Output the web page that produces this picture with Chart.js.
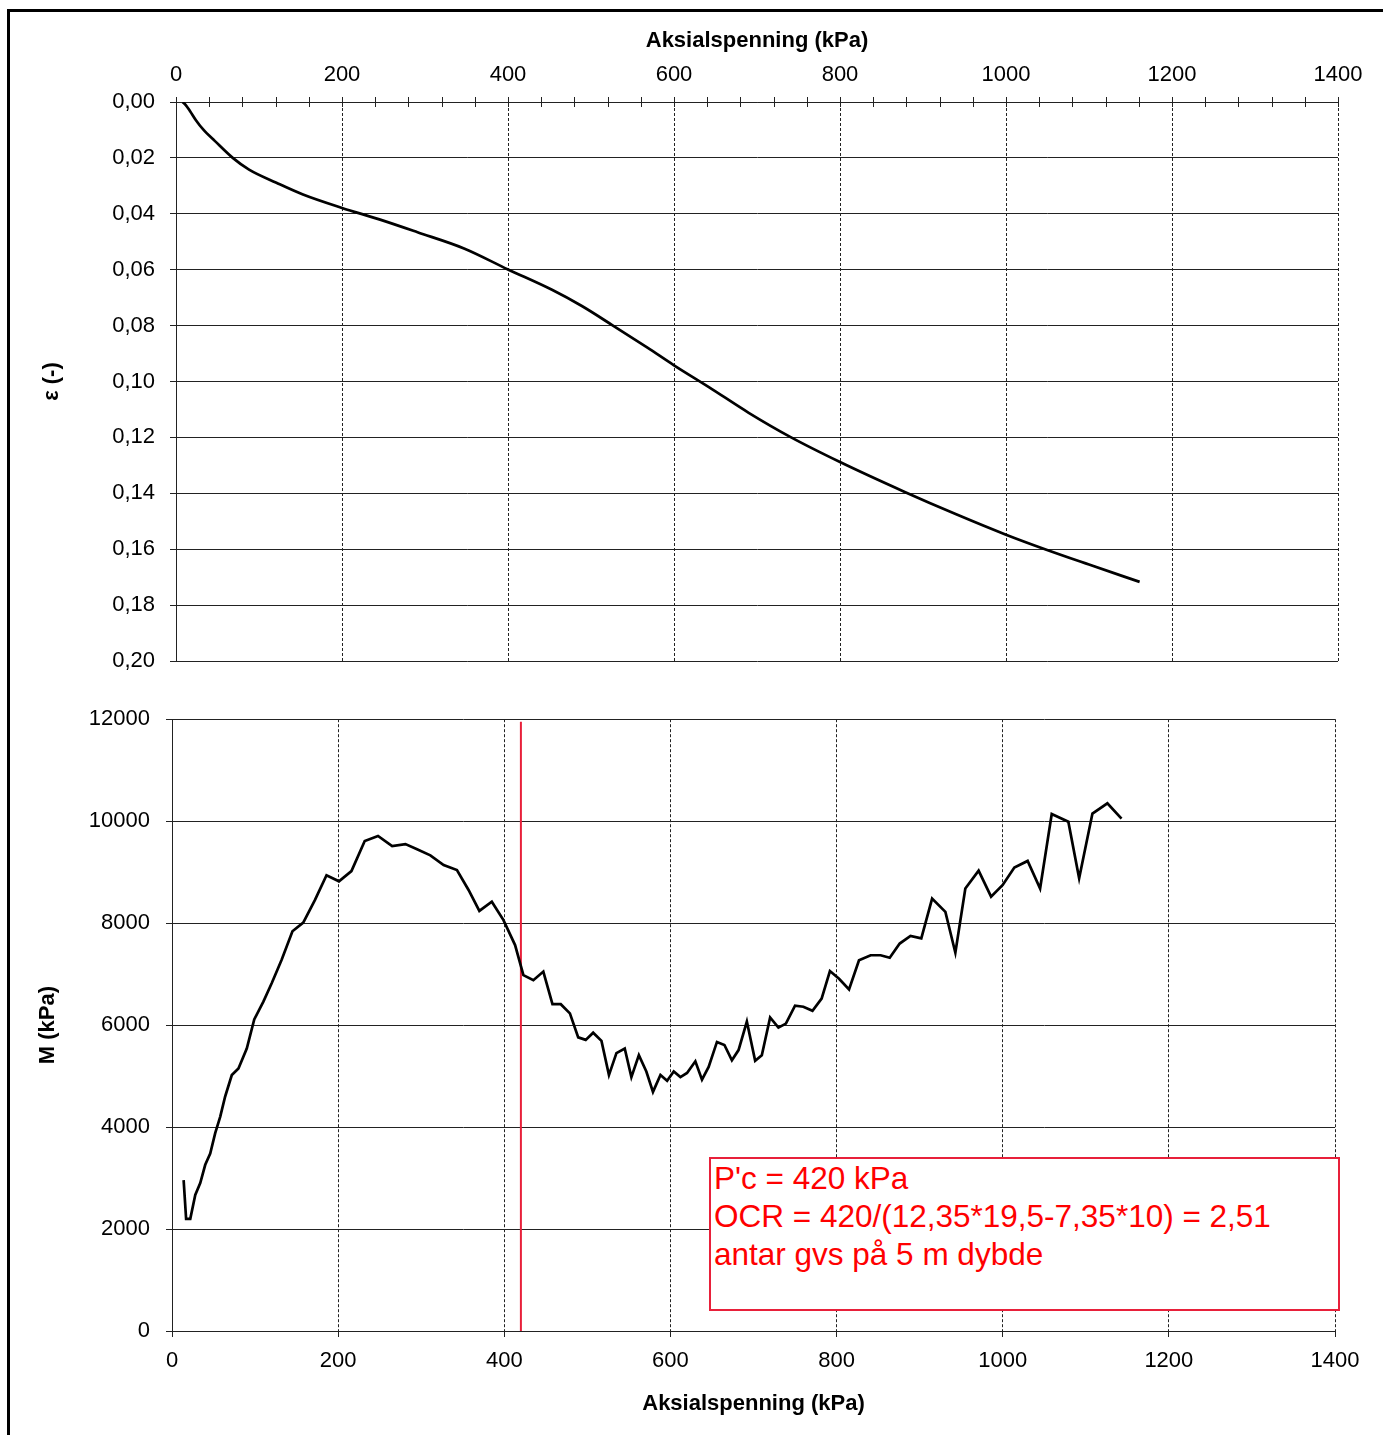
<!DOCTYPE html>
<html>
<head>
<meta charset="utf-8">
<title>Ødometerforsøk – ε og M mot aksialspenning</title>
<script src="https://cdn.jsdelivr.net/npm/chart.js@4.4.1/dist/chart.umd.min.js"></script>
<style>
  html, body { margin: 0; padding: 0; background: #fff; overflow: hidden; }
  body { width: 1383px; height: 1435px; position: relative; font-family: "Liberation Sans", Arial, sans-serif; }
  #frame { position: absolute; left: 7px; top: 9px; right: -20px; bottom: -20px; border: 3px solid #000; }
  #top { position: absolute; left: 0; top: 0; }
  #bottom { position: absolute; left: 0; top: 690px; }
  #note {
    position: absolute; left: 709px; top: 1157px; width: 624px; height: 150px;
    border: 2px solid #e8203a; color: #ff0000; background: #fff;
    font-size: 31.5px; line-height: 38px; padding-left: 3px; box-sizing: content-box;
  }
</style>
</head>
<body>
<div id="frame"></div>
<canvas id="top" width="1383" height="700"></canvas>
<canvas id="bottom" width="1383" height="745"></canvas>
<div id="note"></div>

<script>
// tøyning mot aksialspenning (øvre diagram)
const epsStress = [8, 12, 17, 24, 33, 47, 68, 88, 121, 153, 200, 245, 291, 347, 400, 453, 489, 526, 568, 600,
                   642, 690, 740, 800, 878, 940, 1000, 1047, 1100, 1161];
const epsValues = [0, 0.0012, 0.0033, 0.0065, 0.0099, 0.0140, 0.0199, 0.0242, 0.0289, 0.0331, 0.0379, 0.0420,
                   0.0466, 0.0524, 0.0599, 0.0672, 0.0730, 0.0799, 0.0879, 0.0942, 0.1020, 0.1112, 0.1198,
                   0.1288, 0.1395, 0.1475, 0.1548, 0.1600, 0.1655, 0.1717];

// modul M mot aksialspenning (nedre diagram)
const modStress = [14, 17, 22, 28, 34, 40, 46, 52, 58, 64, 72, 80, 90, 99, 110, 120, 132, 145, 158, 172,
                   186, 201, 216, 232, 248, 265, 281, 295, 311, 327, 343, 357, 370, 385, 399, 413, 423, 435,
                   447, 458, 468, 479, 489, 498, 507, 517, 526, 535, 545, 553, 562, 571, 579, 588, 596, 604,
                   612, 620, 630, 638, 646, 656, 665, 674, 682, 692, 702, 710, 720, 730, 739, 750, 760, 771,
                   782, 792, 803, 815, 827, 841, 853, 864, 876, 889, 902, 915, 931, 943, 955, 971, 986, 1000,
                   1014, 1030, 1045, 1059, 1079, 1092, 1108, 1126, 1143];
const modValues = [2960, 2200, 2200, 2670, 2900, 3260, 3480, 3880, 4200, 4600, 5020, 5150, 5540, 6110, 6460,
                   6820, 7280, 7840, 8010, 8450, 8940, 8820, 9020, 9610, 9710, 9510, 9550, 9450, 9330, 9140,
                   9040, 8650, 8240, 8420, 8060, 7570, 6980, 6880, 7050, 6410, 6410, 6230, 5760, 5710, 5850,
                   5690, 5020, 5450, 5540, 4980, 5410, 5090, 4690, 5020, 4910, 5090, 4980, 5060, 5290, 4930,
                   5180, 5670, 5610, 5310, 5510, 6070, 5300, 5410, 6150, 5950, 6030, 6380, 6360, 6280, 6520,
                   7060, 6910, 6700, 7270, 7370, 7370, 7320, 7600, 7750, 7700, 8480, 8220, 7420, 8680, 9030,
                   8520, 8750, 9090, 9220, 8680, 10140, 9990, 8880, 10150, 10350, 10050];

// prekonsolideringsspenning
const PC = 420;
const PC_TOP = 11950;

const noteLines = [
  `P'c = ${PC} kPa`,
  `OCR = ${PC}/(12,35*19,5-7,35*10) = 2,51`,
  'antar gvs på 5 m dybde',
];

const GRID = '#222';
const RED = '#e8203a';
const TICK_FONT = { size: 22 };
const TITLE_FONT = { size: 22, weight: 'bold' };

Chart.defaults.font.family = '"Liberation Sans", Arial, sans-serif';
Chart.defaults.color = '#000';

const toXY = (xs, ys) => xs.map((x, i) => ({ x, y: ys[i] }));

document.getElementById('note').innerHTML = noteLines.map(t => `<div>${t}</div>`).join('');

// små kryssende merker langs øvre x-akse
const crossTicks = {
  id: 'crossTicks',
  afterDraw(chart) {
    const sc = chart.scales.x;
    const y = Math.round(chart.chartArea.top);
    const ctx = chart.ctx;
    ctx.save();
    ctx.strokeStyle = GRID;
    ctx.lineWidth = 1;
    ctx.beginPath();
    sc.ticks.forEach(t => {
      const px = Math.round(sc.getPixelForValue(t.value)) + 0.5;
      ctx.moveTo(px, y - 5);
      ctx.lineTo(px, y + 5);
    });
    ctx.stroke();
    ctx.restore();
  }
};

new Chart(document.getElementById('top'), {
  type: 'scatter',
  data: {
    datasets: [{
      data: toXY(epsStress, epsValues),
      showLine: true,
      borderColor: '#000',
      borderWidth: 2.7,
      pointRadius: 0,
      cubicInterpolationMode: 'monotone',
    }],
  },
  options: {
    responsive: false,
    animation: false,
    layout: { padding: { left: 0, top: 0, right: 45, bottom: 39 } },
    plugins: { legend: { display: false }, tooltip: { enabled: false } },
    scales: {
      x: {
        type: 'linear',
        position: 'top',
        min: 0,
        max: 1400,
        afterFit: s => { s.height = 102; },
        title: { display: true, text: 'Aksialspenning (kPa)', font: TITLE_FONT, padding: { top: 28, bottom: 0 } },
        ticks: {
          stepSize: 40,
          autoSkip: false,
          maxRotation: 0,
          padding: 14,
          font: TICK_FONT,
          callback: v => (v % 200 === 0 ? String(v) : ''),
        },
        grid: {
          drawTicks: false,
          color: c => (c.tick && c.tick.value % 200 === 0 ? GRID : 'rgba(0,0,0,0)'),
          lineWidth: 1,
        },
        border: { color: GRID, width: 1, dash: [3, 2] },
      },
      y: {
        type: 'linear',
        reverse: true,
        min: 0,
        max: 0.2,
        afterFit: s => { s.width = 176; },
        title: { display: true, text: 'ε (-)', font: TITLE_FONT, padding: { top: 39, bottom: 0 } },
        ticks: {
          stepSize: 0.02,
          autoSkip: false,
          padding: 15,
          font: TICK_FONT,
          callback: v => v.toFixed(2).replace('.', ','),
        },
        grid: { color: GRID, lineWidth: 1, tickLength: 6, tickColor: GRID },
        border: { color: GRID, width: 1 },
      },
    },
  },
  plugins: [crossTicks],
});

new Chart(document.getElementById('bottom'), {
  type: 'scatter',
  data: {
    datasets: [
      {
        data: toXY(modStress, modValues),
        showLine: true,
        borderColor: '#000',
        borderWidth: 2.7,
        pointRadius: 0,
        tension: 0,
      },
      {
        data: [{ x: PC, y: 0 }, { x: PC, y: PC_TOP }],
        showLine: true,
        borderColor: RED,
        borderWidth: 2,
        pointRadius: 0,
      },
    ],
  },
  options: {
    responsive: false,
    animation: false,
    layout: { padding: { left: 0, top: 29, right: 48, bottom: 0 } },
    plugins: { legend: { display: false }, tooltip: { enabled: false } },
    scales: {
      x: {
        type: 'linear',
        position: 'bottom',
        min: 0,
        max: 1400,
        afterFit: s => { s.height = 104; },
        title: { display: true, text: 'Aksialspenning (kPa)', font: TITLE_FONT, padding: { top: 0, bottom: 18 } },
        ticks: { stepSize: 200, maxRotation: 0, padding: 11, font: TICK_FONT, callback: v => String(v) },
        grid: { color: GRID, lineWidth: 1, tickLength: 6, tickColor: GRID },
        border: { color: GRID, width: 1, dash: [3, 2] },
      },
      y: {
        type: 'linear',
        min: 0,
        max: 12000,
        afterFit: s => { s.width = 172; },
        title: { display: true, text: 'M (kPa)', font: TITLE_FONT, padding: { top: 35, bottom: 0 } },
        ticks: { stepSize: 2000, padding: 16, font: TICK_FONT, callback: v => String(v) },
        grid: { color: GRID, lineWidth: 1, tickLength: 6, tickColor: GRID },
        border: { color: GRID, width: 1 },
      },
    },
  },
});
</script>
</body>
</html>
